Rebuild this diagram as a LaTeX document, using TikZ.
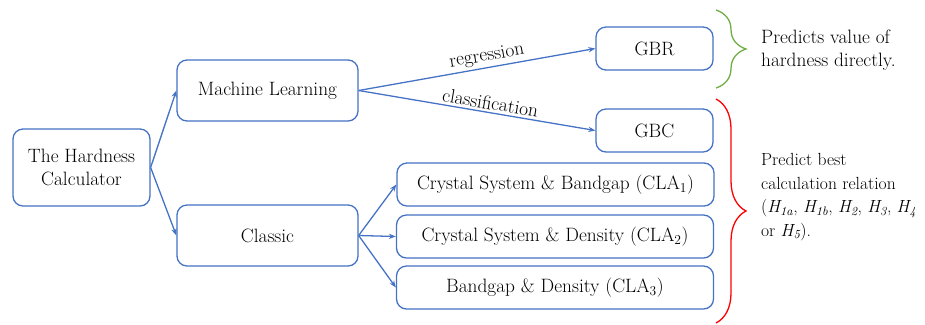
\documentclass[tikz,border=0pt]{standalone}
\usetikzlibrary{arrows.meta,decorations.pathreplacing}
\definecolor{boxblue}{RGB}{68,114,196}
\definecolor{bracegreen}{RGB}{112,173,71}
\begin{document}
\begin{tikzpicture}[x=0.03cm,y=-0.03cm,
  font=\fontsize{16.5}{20}\selectfont,
  box/.style={draw=boxblue,line width=1.1pt,rounded corners=0.3cm,align=center,inner sep=0pt},
  link/.style={draw=boxblue,line width=1.1pt,-{Stealth[length=6pt,width=4.5pt]}},
  curly/.style={decorate,decoration={brace,amplitude=0.9cm},line width=1.1pt}]
\useasboundingbox (0,0) rectangle (925,324);

\node[box,minimum width=4.11cm,minimum height=2.31cm] (calc) at (81.5,167.5) {The Hardness\\Calculator};
\node[box,minimum width=5.43cm,minimum height=1.83cm] (ml) at (267.5,90.5) {Machine Learning};
\node[box,minimum width=5.43cm,minimum height=1.83cm] (classic) at (267.5,235.5) {Classic};
\node[box,minimum width=3.51cm,minimum height=1.29cm] (gbr) at (654.5,48.5) {GBR};
\node[box,minimum width=3.51cm,minimum height=1.29cm] (gbc) at (654.5,130.5) {GBC};
\node[box,minimum width=9.51cm,minimum height=1.29cm] (cla1) at (555.5,184.5) {Crystal System \& Bandgap (CLA\textsubscript{1})};
\node[box,minimum width=9.51cm,minimum height=1.29cm] (cla2) at (555,236.5) {Crystal System \& Density (CLA\textsubscript{2})};
\node[box,minimum width=9.51cm,minimum height=1.29cm] (cla3) at (555,287.5) {Bandgap \& Density (CLA\textsubscript{3})};

\draw[link] (calc.east) -- (ml.west);
\draw[link] (calc.east) -- (classic.west);
\draw[link] (ml.east) -- node[pos=0.55,above,sloped,inner sep=2pt] {regression} (gbr.west);
\draw[link] (ml.east) -- node[pos=0.55,above,sloped,inner sep=2pt] {classification} (gbc.west);
\draw[link] (classic.east) -- (cla1.west);
\draw[link] (classic.east) -- (cla2.west);
\draw[link] (classic.east) -- (cla3.west);

\coordinate (gtop) at (716,10);
\coordinate (gbot) at (716,88);
\coordinate (rtop) at (716,99);
\coordinate (rbot) at (716,323);
\draw[curly,draw=bracegreen] (gtop) -- (gbot);
\draw[curly,draw=red] (rtop) -- (rbot);

\node[anchor=west,align=left] (direct) at (757,50) {Predicts value of\\hardness directly.};
\node[anchor=west,align=left,font=\fontsize{15}{20}\selectfont] (best) at (757,197) {Predict best\\calculation relation\\(\textit{H\textsubscript{1a}}, \textit{H\textsubscript{1b}}, \textit{H\textsubscript{2}}, \textit{H\textsubscript{3}}, \textit{H\textsubscript{4}}\\or \textit{H\textsubscript{5}}).};
\end{tikzpicture}
\end{document}
